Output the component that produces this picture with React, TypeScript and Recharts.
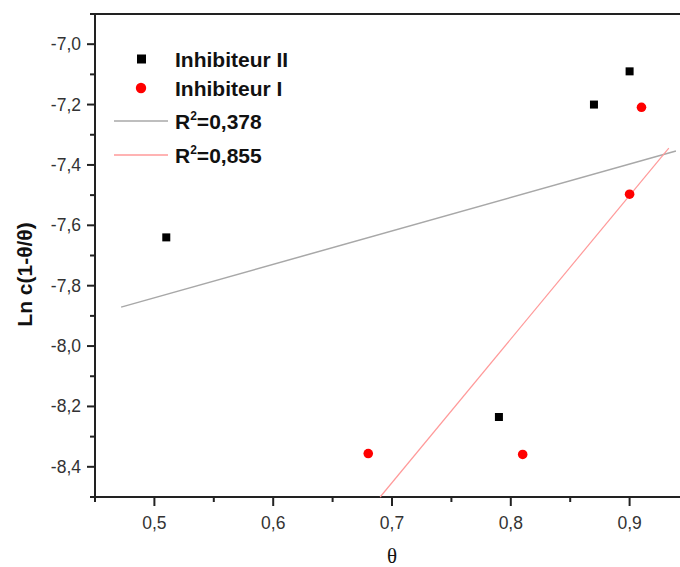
import { Legend, ReferenceLine, Scatter, ScatterChart, XAxis, YAxis } from "recharts"

const inhibiteurII = [
  { x: 0.51, y: -7.64 },
  { x: 0.79, y: -8.235 },
  { x: 0.87, y: -7.2 },
  { x: 0.9, y: -7.09 },
]
const inhibiteurI = [
  { x: 0.68, y: -8.356 },
  { x: 0.81, y: -8.359 },
  { x: 0.9, y: -7.497 },
  { x: 0.91, y: -7.209 },
]
// fitted lines, end points
const fitII = [
  { x: 0.472, y: -7.871 },
  { x: 0.939, y: -7.354 },
]
const fitI = [
  { x: 0.69, y: -8.5 },
  { x: 0.933, y: -7.344 },
]

const xTicks = [0.45, 0.5, 0.55, 0.6, 0.65, 0.7, 0.75, 0.8, 0.85, 0.9, 0.95]
const xMajor = [0.5, 0.6, 0.7, 0.8, 0.9]
const yTicks = [-8.5, -8.4, -8.3, -8.2, -8.1, -8.0, -7.9, -7.8, -7.7, -7.6, -7.5, -7.4, -7.3, -7.2, -7.1, -7.0, -6.9]
const yMajor = [-8.4, -8.2, -8.0, -7.8, -7.6, -7.4, -7.2, -7.0]

const legendItems = [
  { name: "Inhibiteur II", kind: "square", color: "#000" },
  { name: "Inhibiteur I", kind: "circle", color: "#ff0000" },
  { name: "0,378", kind: "line", color: "#a8a8a8" },
  { name: "0,855", kind: "line", color: "#ff9a9a" },
]
const legendRowsY = [51, 80, 113, 147]

const sans = "'Liberation Sans', Arial, sans-serif"
const axisColor = "#222"
const fmt = (v: number) => v.toFixed(1).replace(".", ",")

function XTick(props: any) {
  const { x, y, payload } = props
  const major = xMajor.includes(payload.value)
  return (
    <g>
      <line x1={x} x2={x} y1={y} y2={y + (major ? 9 : 5)} stroke={axisColor} strokeWidth={2} />
      {major && (
        <text x={x} y={y + 32} textAnchor="middle" fontSize={17.5} fill="#333" fontFamily={sans}>
          {fmt(payload.value)}
        </text>
      )}
    </g>
  )
}

function YTick(props: any) {
  const { x, y, payload } = props
  const major = yMajor.includes(payload.value)
  return (
    <g>
      <line x1={x} x2={x - (major ? 8 : 5)} y1={y} y2={y} stroke={axisColor} strokeWidth={2} />
      {major && (
        <text x={x - 14} y={y + 6} textAnchor="end" fontSize={17.5} fill="#333" fontFamily={sans}>
          {fmt(payload.value)}
        </text>
      )}
    </g>
  )
}

function Square(props: any) {
  return <rect x={props.cx - 4} y={props.cy - 4} width={8} height={8} fill="#000" />
}

function Dot(props: any) {
  return <circle cx={props.cx} cy={props.cy} r={4.8} fill="#ff0000" />
}

function LegendBox() {
  return (
    <svg width={300} height={170} style={{ display: "block" }}>
      {legendItems.map((item, i) => {
        const cy = legendRowsY[i]
        return (
          <g key={item.name}>
            {item.kind === "square" && <rect x={129} y={cy - 4.5} width={9} height={9} fill={item.color} />}
            {item.kind === "circle" && <circle cx={133} cy={cy} r={5.2} fill={item.color} />}
            {item.kind === "line" && (
              <line x1={106} x2={160} y1={cy} y2={cy} stroke={item.color} strokeWidth={1.5} />
            )}
            <text x={167} y={cy + 7.5} fontSize={21} fontWeight="bold" fontFamily={sans} fill="#111">
              {item.kind === "line" ? (
                <>
                  R
                  <tspan fontSize={12} dy={-9}>
                    2
                  </tspan>
                  <tspan dy={9}>={item.name}</tspan>
                </>
              ) : (
                item.name
              )}
            </text>
          </g>
        )
      })}
    </svg>
  )
}

function YTitle(props: any) {
  const { viewBox } = props
  const cx = viewBox.x + viewBox.width - 63
  const cy = viewBox.y + viewBox.height / 2 + 19
  return (
    <text
      x={cx}
      y={cy}
      transform={`rotate(-90 ${cx} ${cy})`}
      textAnchor="middle"
      fontSize={21}
      fontWeight="bold"
      fontFamily={sans}
      fill="#111"
    >
      Ln c(1-θ/θ)
    </text>
  )
}

function XTitle(props: any) {
  const { viewBox } = props
  return (
    <text
      x={viewBox.x + viewBox.width / 2}
      y={viewBox.y + 66}
      textAnchor="middle"
      fontSize={21}
      fontFamily="'Liberation Serif', 'Times New Roman', serif"
      fill="#111"
    >
      θ
    </text>
  )
}

export default function App() {
  return (
    <div style={{ position: "absolute", left: 8, top: 8, width: 672, height: 559, overflow: "hidden" }}>
      <ScatterChart width={700} height={559} margin={{ top: 6, right: 19, bottom: 0, left: 0 }}>
        <XAxis
          type="number"
          dataKey="x"
          domain={[0.45, 0.95]}
          ticks={xTicks}
          interval={0}
          tickSize={0}
          tickMargin={0}
          tick={<XTick />}
          tickLine={false}
          axisLine={{ stroke: axisColor, strokeWidth: 2 }}
          height={70}
          label={<XTitle />}
        />
        <YAxis
          type="number"
          dataKey="y"
          domain={[-8.5, -6.9]}
          ticks={yTicks}
          interval={0}
          tickSize={0}
          tickMargin={0}
          tick={<YTick />}
          tickLine={false}
          axisLine={{ stroke: axisColor, strokeWidth: 2 }}
          width={87}
          label={<YTitle />}
        />
        <ReferenceLine y={-6.9} stroke={axisColor} strokeWidth={2} />
        <Legend
          layout="vertical"
          align="center"
          verticalAlign="middle"
          content={<LegendBox />}
          wrapperStyle={{ left: 0, top: 0, width: 300, height: 170 }}
        />
        <Scatter
          name="fitII"
          data={fitII}
          line={{ stroke: "#a8a8a8", strokeWidth: 1.5 }}
          shape={() => <g />}
          isAnimationActive={false}
          legendType="none"
        />
        <Scatter
          name="fitI"
          data={fitI}
          line={{ stroke: "#ff9a9a", strokeWidth: 1.2 }}
          shape={() => <g />}
          isAnimationActive={false}
          legendType="none"
        />
        <Scatter name="Inhibiteur II" data={inhibiteurII} shape={<Square />} isAnimationActive={false} />
        <Scatter name="Inhibiteur I" data={inhibiteurI} shape={<Dot />} isAnimationActive={false} />
      </ScatterChart>
    </div>
  )
}
